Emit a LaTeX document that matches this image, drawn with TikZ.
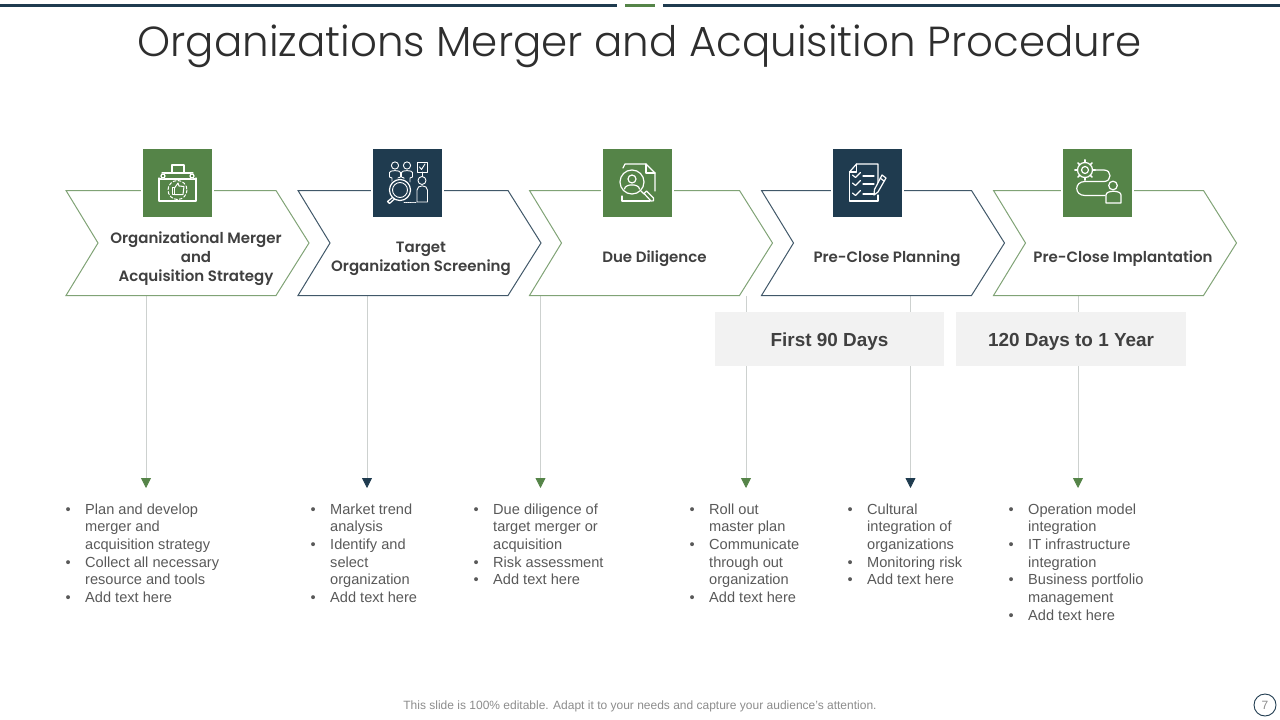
\documentclass[tikz,border=0pt]{standalone}
\usepackage{fontspec}
\setmainfont{Liberation Sans}
\newfontfamily\titlefont{Poppins Light}
\newfontfamily\labelfont{Poppins SemiBold}
\usetikzlibrary{arrows.meta}
\definecolor{gr}{HTML}{558448}
\definecolor{nv}{HTML}{1F3B4F}
\definecolor{tx}{HTML}{404040}
\definecolor{bd}{HTML}{595959}
\definecolor{ln}{HTML}{CDD1CF}
\definecolor{bx}{HTML}{F2F2F2}
\definecolor{ft}{HTML}{8C8C8C}
\tikzset{
 chev/.style={line width=1pt,fill=white,line join=miter},
 ico/.style={draw=white,line width=1.2pt,line cap=round,line join=round},
 iconbox/.style={minimum width=69pt,minimum height=68pt,inner sep=0pt,outer sep=0pt,anchor=north west},
 halo/.style={fill=white,draw=none},
 steplabel/.style={font=\labelfont\fontsize{15}{19}\selectfont,text=tx,align=center,inner sep=0pt},
 daybox/.style={fill=bx,minimum height=54pt,inner sep=0pt,font=\bfseries\fontsize{18.9}{24}\selectfont,text=tx},
 listtext/.style={anchor=north west,inner sep=0pt,text=bd,font=\fontsize{14.6}{17.7}\selectfont},
 vline/.style={draw=ln,line width=0.8pt},
 tipg/.style={-{Triangle[width=10pt,length=10pt,fill=gr,color=gr]}},
 tipn/.style={-{Triangle[width=10pt,length=10pt,fill=nv,color=nv]}},
}
\newcommand{\chevron}[2]{% x, colour
 \draw[chev,draw=#2] (#1,190.5) -- ++(210,0) -- ++(33,52.5) -- ++(-33,52.5) -- ++(-210,0) -- ++(32,-52.5) -- cycle;}
\newcommand{\blist}[1]{\setlength{\tabcolsep}{0pt}\renewcommand{\arraystretch}{1}\begin{tabular}{@{}p{19.5pt}@{}l@{}}#1\end{tabular}}
\newcommand{\bust}[1]{% outlined person, x centre
 \draw[ico,line width=0.9pt] (#1,16.5) circle (3.6);
 \draw[ico,line width=0.9pt] (#1-3,33) -- (#1-3,29) -- (#1-5.5,28) -- (#1-5.5,23.5) .. controls (#1-5.5,21) and (#1+5.5,21) .. (#1+5.5,23.5) -- (#1+5.5,28) -- (#1+3,29) -- (#1+3,33);}
\begin{document}
\begin{tikzpicture}[x=1pt,y=-1pt]
\useasboundingbox (0,0) rectangle (1280,720);
% top bars
\fill[nv] (0,4) rectangle (617,7);
\fill[gr] (625,4) rectangle (655,7);
\fill[nv] (663,4) rectangle (1280,7);
\node[font=\titlefont\fontsize{42}{50}\selectfont,text=black!82,inner sep=0pt] (title) at (639.5,46) {Organizations Merger and Acquisition Procedure};

% connector start/end points
\foreach \n/\xa/\ya in {a/146/296,b/367/296,c/540.5/296,d/746/296,e/910.5/296,f/1078/296}{
 \coordinate (s\n) at (\xa,\ya);
 \coordinate (t\n) at (\xa,488);
}
\draw[vline,tipg] (sa) -- (ta);
\draw[vline,tipn] (sb) -- (tb);
\draw[vline,tipg] (sc) -- (tc);
\draw[vline,tipg] (sd) -- (td);
\draw[vline,tipn] (se) -- (te);
\draw[vline,tipg] (sf) -- (tf);

% chevrons
\chevron{66}{gr!75!white}
\chevron{298}{nv!85!white}
\chevron{529.5}{gr!75!white}
\chevron{761.5}{nv!85!white}
\chevron{993.5}{gr!75!white}

% icon boxes
\foreach \x in {141,371,601,831,1061}{\fill[halo] (\x,185) rectangle ++(73,12);}
\node[iconbox,fill=gr] (i1) at (143,149) {};
\node[iconbox,fill=nv] (i2) at (373,149) {};
\node[iconbox,fill=gr] (i3) at (603,149) {};
\node[iconbox,fill=nv] (i4) at (833,149) {};
\node[iconbox,fill=gr] (i5) at (1063,149) {};

% icon 1: briefcase
\begin{scope}[shift={(143,149)}]
 \draw[ico] (16,29) -- (16,52) -- (53,52) -- (53,29);
 \draw[ico] (19,24) -- (50,24);
 \draw[ico] (29,24) -- (29,16) -- (41,16) -- (41,24);
 \draw[ico] (16,30) -- (53,30);
 \fill[gr] (20,27) circle (2.6); \draw[ico] (20,27) circle (2);
 \fill[gr] (49,27) circle (2.6); \draw[ico] (49,27) circle (2);
 \draw[ico,densely dashed,line width=1pt] (34.5,41) circle (9.5);
 \draw[ico,line width=1pt] (29,38.5) rectangle (31.5,45.5);
 \draw[ico,line width=1pt] (31.5,39) -- (35,34) -- (36,37) -- (41,37.5) -- (40,45.5) -- (31.5,45.5);
\end{scope}
% icon 2: screening
\begin{scope}[shift={(373,149)}]
 \bust{22}
 \bust{34}
 \draw[ico,line width=0.9pt] (44,13) rectangle (54,23);
 \draw[ico,line width=0.9pt] (46.5,18) -- (48.5,20.5) -- (52,15);
 \draw[ico,line width=0.9pt] (49,23) -- (49,27.5);
 \draw[ico,line width=0.9pt] (49,31.5) circle (4);
 \draw[ico,line width=0.9pt] (44,53) -- (44,41) .. controls (44,35.5) and (54.5,35.5) .. (54.5,41) -- (54.5,53) -- cycle;
 \fill[nv] (27,41) circle (12);
 \draw[ico] (27,41) circle (10.5);
 \draw[ico,line width=0.9pt] (27,41) circle (7.5);
 \draw[ico] (19.5,48.5) -- (14.5,52.5) -- (16.5,54.5) -- (21.5,50);
 \draw[ico,line width=0.9pt,densely dotted] (31,53) -- (43,53);
\end{scope}
% icon 3: document search
\begin{scope}[shift={(603,149)}]
 \draw[ico] (20,19) -- (22,15) -- (43,15) -- (52,24) -- (52,42);
 \draw[ico] (43,15) -- (43,24) -- (52,24);
 \draw[ico] (19,47) -- (19,52) -- (47,52);
 \draw[ico] (29,33) circle (12);
 \draw[ico] (29,30) circle (4);
 \draw[ico] (21.5,40) .. controls (22,34.5) and (36,34.5) .. (36.5,40);
 \draw[ico] (38,42) -- (41,45);
 \draw[ico] (41,44.5) -- (48,52) .. controls (50,53.5) and (52,51) .. (50.5,49) -- (43.5,42) -- cycle;
\end{scope}
% icon 4: checklist
\begin{scope}[shift={(833,149)}]
 \draw[ico] (16.5,23) -- (23.5,15) -- (45,15) -- (45,34);
 \draw[ico] (16.5,23) -- (16.5,52) -- (45,52) -- (45,46);
 \draw[ico] (16.5,23) -- (23.5,23) -- (23.5,15);
 \foreach \y in {27,35,45}{
  \draw[ico] (19.5,\y-1) -- (22.5,\y+1.5) -- (27.5,\y-3.5);
  \draw[ico] (30,\y) -- (41,\y);
 }
 \fill[nv] (47,36) circle (3);
 \draw[ico] (49,26) -- (53,29) -- (45,43) -- (41,46) -- (41.5,40.5) -- cycle;
 \draw[ico] (47,29) -- (51,32);
\end{scope}
% icon 5: process and person
\begin{scope}[shift={(1063,149)}]
 \draw[ico] (22,21) circle (3.5);
 \draw[ico] (22,21) circle (7.5);
 \foreach \a in {0,45,...,315}{\draw[ico,line width=1.6pt] (22,21) ++(\a:7.5) -- ++(\a:2.6);}
 \draw[ico] (32,21) -- (41,21) .. controls (49,21) and (49,32.5) .. (41,32.5) -- (22,32.5) .. controls (11,32.5) and (11,46.5) .. (22,46.5) -- (42,46.5);
 \fill[gr] (50,36.5) circle (5.2);
 \draw[ico] (50,36.5) circle (4.3);
 \draw[ico] (43,54) -- (43,46) .. controls (43,41) and (58,41) .. (58,46) -- (58,54) -- cycle;
\end{scope}

% step labels
\node[steplabel] (l1) at (196,258.5) {Organizational Merger\\and\\Acquisition Strategy};
\node[steplabel] (l2) at (421,258.5) {Target\\Organization Screening};
\node[steplabel] (l3) at (654.5,258.5) {Due Diligence};
\node[steplabel] (l4) at (887,258.5) {Pre-Close Planning};
\node[steplabel] (l5) at (1123,258.5) {Pre-Close Implantation};

% day boxes
\node[daybox,minimum width=229pt] (d1) at (829.5,339) {\raisebox{-7pt}[0pt][0pt]{First 90 Days}};
\node[daybox,minimum width=230pt] (d2) at (1071,339) {\raisebox{-7pt}[0pt][0pt]{120 Days to 1 Year}};

% lists
\node[listtext] (b1) at (65.5,501.5) {\blist{\textbullet & Plan and develop\\ & merger and\\ & acquisition strategy\\ \textbullet & Collect all necessary\\ & resource and tools\\ \textbullet & Add text here}};
\node[listtext] (b2) at (310.5,501.5) {\blist{\textbullet & Market trend\\ & analysis\\ \textbullet & Identify and\\ & select\\ & organization\\ \textbullet & Add text here}};
\node[listtext] (b3) at (473.5,501.5) {\blist{\textbullet & Due diligence of\\ & target merger or\\ & acquisition\\ \textbullet & Risk assessment\\ \textbullet & Add text here}};
\node[listtext] (b4) at (689.5,501.5) {\blist{\textbullet & Roll out\\ & master plan\\ \textbullet & Communicate\\ & through out\\ & organization\\ \textbullet & Add text here}};
\node[listtext] (b5) at (847.5,501.5) {\blist{\textbullet & Cultural\\ & integration of\\ & organizations\\ \textbullet & Monitoring risk\\ \textbullet & Add text here}};
\node[listtext] (b6) at (1008.5,501.5) {\blist{\textbullet & Operation model\\ & integration\\ \textbullet & IT infrastructure\\ & integration\\ \textbullet & Business portfolio\\ & management\\ \textbullet & Add text here}};

% footer
\node[font=\fontsize{12}{14}\selectfont,text=ft,inner sep=0pt] (foot) at (640,706.5) {This slide is 100\% editable. Adapt it to your needs and capture your audience's attention.};
\node[circle,draw=nv,line width=0.9pt,minimum size=22pt,inner sep=0pt,font=\fontsize{12}{14}\selectfont,text=ft] (page) at (1265,705) {7};
\end{tikzpicture}
\end{document}
